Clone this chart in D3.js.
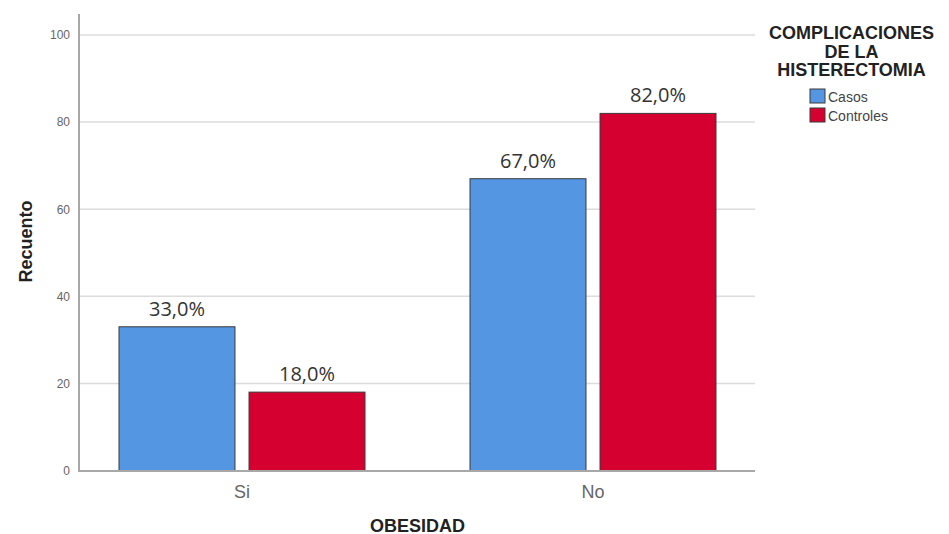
<!DOCTYPE html>
<html>
<head>
<meta charset="utf-8">
<script src="https://cdn.jsdelivr.net/npm/d3@7"></script>
<style>
  html, body { margin: 0; padding: 0; background: #fff; }
  svg { display: block; }
</style>
</head>
<body>
<svg id="chart" width="949" height="534"></svg>
<script>
const categories = ["Si", "No"];
const seriesNames = ["Casos", "Controles"];
const casos = [33, 67];
const controles = [18, 82];
const pctLabels = {Casos: ["33,0%", "67,0%"], Controles: ["18,0%", "82,0%"]};
const yTicks = [0, 20, 40, 60, 80, 100];
const colors = {Casos: "#5596e3", Controles: "#d5002f"};
const xTitle = "OBESIDAD";
const yTitle = "Recuento";
const legendTitle = ["COMPLICACIONES", "DE LA", "HISTERECTOMIA"];

const svg = d3.select("#chart");
const axisFont = "'Liberation Sans', Arial, sans-serif";

const y = d3.scaleLinear().domain([0, 100]).range([470.5, 35]);
const x0 = d3.scaleBand().domain(categories).range([66.5, 768.5]).padding(0);
const x1 = d3.scaleBand().domain(seriesNames).range([0, 246]).paddingInner(0.108).paddingOuter(0);
const groupOffset = (x0.bandwidth() - 246) / 2;

// gridlines
svg.append("g").selectAll("line").data(yTicks.filter(d => d > 0)).join("line")
  .attr("x1", 80).attr("x2", 755)
  .attr("y1", d => y(d)).attr("y2", d => y(d))
  .attr("stroke", "#dcdcdc").attr("stroke-width", 1.5);

// y axis
const yAxis = d3.axisLeft(y).tickValues(yTicks).tickSize(0).tickPadding(9);
const gy = svg.append("g").attr("transform", "translate(79,0)").call(yAxis);
gy.select(".domain").remove();
gy.selectAll("text").attr("font-family", axisFont).attr("font-size", 12).attr("fill", "#666");
svg.append("line").attr("x1", 79).attr("x2", 79).attr("y1", 14).attr("y2", 471)
  .attr("stroke", "#a8a8a8").attr("stroke-width", 2);

// bars
const data = categories.map((c, i) => ({cat: c, values: [
  {key: "Casos", value: casos[i], label: pctLabels.Casos[i]},
  {key: "Controles", value: controles[i], label: pctLabels.Controles[i]}
]}));

const groups = svg.append("g").selectAll("g").data(data).join("g")
  .attr("transform", d => `translate(${x0(d.cat) + groupOffset},0)`);

groups.selectAll("rect").data(d => d.values).join("rect")
  .attr("x", d => x1(d.key))
  .attr("y", d => y(d.value))
  .attr("width", x1.bandwidth())
  .attr("height", d => y(0) - y(d.value))
  .attr("fill", d => colors[d.key])
  .attr("stroke", "#3a3a3a").attr("stroke-width", 1);

groups.selectAll("text").data(d => d.values).join("text")
  .attr("x", d => x1(d.key) + x1.bandwidth() / 2)
  .attr("y", d => y(d.value) - 11)
  .attr("text-anchor", "middle")
  .attr("font-family", "'Open Sans', sans-serif")
  .attr("font-size", 20)
  .attr("fill", "#333")
  .text(d => d.label);

// x axis
const xAxis = d3.axisBottom(x0).tickSize(0).tickPadding(14);
const gx = svg.append("g").attr("transform", "translate(0,471)").call(xAxis);
gx.select(".domain").remove();
gx.selectAll("text").attr("font-family", axisFont).attr("font-size", 18).attr("fill", "#666");
svg.append("line").attr("x1", 78).attr("x2", 755).attr("y1", 471).attr("y2", 471)
  .attr("stroke", "#a8a8a8").attr("stroke-width", 2);

// axis titles
svg.append("text").attr("x", 417.5).attr("y", 531.5).attr("text-anchor", "middle")
  .attr("font-family", axisFont).attr("font-weight", "bold").attr("font-size", 18)
  .attr("fill", "#222").text(xTitle);
svg.append("text").attr("transform", "translate(32,241.5) rotate(-90)").attr("text-anchor", "middle")
  .attr("font-family", axisFont).attr("font-weight", "bold").attr("font-size", 18)
  .attr("fill", "#222").text(yTitle);

// legend
const lg = svg.append("g");
lg.selectAll("text.title").data(legendTitle).join("text").attr("class", "title")
  .attr("x", 851.5).attr("y", (d, i) => 39 + i * 18.5)
  .attr("text-anchor", "middle")
  .attr("font-family", axisFont).attr("font-weight", "bold").attr("font-size", 18)
  .attr("fill", "#222").text(d => d);

const items = lg.selectAll("g.item").data(seriesNames).join("g").attr("class", "item")
  .attr("transform", (d, i) => `translate(810,${89 + i * 19})`);
items.append("rect").attr("width", 15).attr("height", 14)
  .attr("fill", d => colors[d]).attr("stroke", "#3a3a3a").attr("stroke-width", 1);
items.append("text").attr("x", 18).attr("y", 13)
  .attr("font-family", axisFont).attr("font-size", 14).attr("fill", "#444")
  .text(d => d);
</script>
</body>
</html>
